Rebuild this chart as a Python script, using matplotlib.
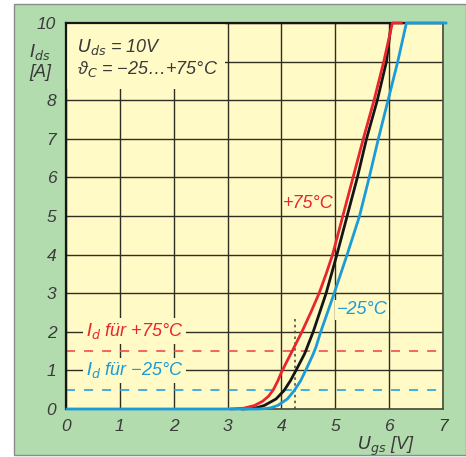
import matplotlib
matplotlib.use("Agg")
import matplotlib.pyplot as plt
from matplotlib.patches import Rectangle

plt.rcParams['font.family'] = ['Liberation Sans Narrow', 'Liberation Sans', 'DejaVu Sans']
plt.rcParams['font.style'] = 'italic'
plt.rcParams['mathtext.fontset'] = 'custom'
plt.rcParams['mathtext.it'] = 'Liberation Sans Narrow:italic'
plt.rcParams['mathtext.rm'] = 'Liberation Sans Narrow:italic'
plt.rcParams['mathtext.default'] = 'it'

# ---- data ----
x_ticks = [0, 1, 2, 3, 4, 5, 6, 7]
y_ticks = [0, 1, 2, 3, 4, 5, 6, 7, 8, 9, 10]
y_ticklabels = ['0', '1', '2', '3', '4', '5', '6', '7', '8', '', '10']

# +75 °C (red)
ugs_hot = [3.05, 3.3, 3.5, 3.65, 3.76, 3.85, 3.93, 4.0, 4.1, 4.2, 4.38, 4.545, 4.70, 4.83, 4.95,
           5.14, 5.33, 5.52, 5.72, 5.9, 6.06, 6.25]
ids_hot = [0, 0.02, 0.09, 0.2, 0.33, 0.5, 0.72, 0.95, 1.23, 1.5, 2.0, 2.5, 3.0, 3.5, 4.0,
           5.0, 6.0, 7.0, 8.0, 9.0, 10.0, 10.0]

# +25 °C (black)
ugs_mid = [3.25, 3.4, 3.53, 3.68, 3.9, 4.05, 4.17, 4.27, 4.43, 4.59, 4.83, 5.03,
           5.22, 5.41, 5.58, 5.78, 5.95, 6.04]
ids_mid = [0, 0.01, 0.03, 0.09, 0.26, 0.48, 0.74, 1.0, 1.43, 2.0, 3.0, 4.0,
           5.0, 6.0, 7.0, 8.0, 9.0, 10.0]

# -25 °C (blue)
ugs_cold = [0, 3.55, 3.7, 3.8, 3.93, 4.11, 4.24, 4.36, 4.45, 4.58, 4.64, 4.73, 4.98,
            5.22, 5.45, 5.63, 5.80, 5.98, 6.16, 6.32, 7.08]
ids_cold = [0, 0, 0.01, 0.03, 0.09, 0.26, 0.48, 0.74, 1.0, 1.39, 1.6, 2.0, 3.0,
            4.0, 5.0, 6.0, 7.0, 8.0, 9.0, 10.0, 10.0]

id_hot_level = 1.5
id_cold_level = 0.5
ugs_marker = 4.25
marker_top = 2.4

RED = '#e8262d'
BLUE = '#1b9bd7'
BLACK = '#151515'
YELLOW = '#fffac6'
GREEN = '#b2dbae'
GRID = '#2e2e22'
TXT = '#3a3a3a'

fig = plt.figure(figsize=(4.66, 4.57), dpi=100)
fig.patch.set_facecolor('white')
fig.add_artist(Rectangle((14 / 466, 2 / 457), (466 - 14) / 466, (453 - 2) / 457,
                         transform=fig.transFigure, facecolor=GREEN,
                         edgecolor='#8c8c8c', linewidth=1.0, zorder=0))

ax = fig.add_axes([66 / 466, 1 - 409 / 457, (443 - 66) / 466, (409 - 23) / 457])
ax.set_facecolor(YELLOW)
ax.set_xlim(0, 7)
ax.set_ylim(0, 10)
ax.set_xticks(x_ticks)
ax.set_xticklabels([str(v) for v in x_ticks])
ax.set_yticks(y_ticks)
ax.set_yticklabels(y_ticklabels)
ax.tick_params(length=0, labelsize=12.5, labelcolor=TXT, pad=7)
ax.set_axisbelow(True)
ax.grid(True, color=GRID, linewidth=1.0)
for s in ['left', 'top']:
    ax.spines[s].set_linewidth(1.6)
    ax.spines[s].set_color(BLACK)
for s in ['right', 'bottom']:
    ax.spines[s].set_linewidth(1.2)
    ax.spines[s].set_color('#4a4a3a')

# blank area behind the header text
ax.add_patch(Rectangle((0, 8.3), 2.95, 1.7, facecolor=YELLOW, edgecolor='none', zorder=1))

# reference levels
ax.axhline(id_hot_level, color='#f0595c', linestyle=(0, (5, 5)), linewidth=1.3, zorder=2)
ax.axhline(id_cold_level, color='#37a7de', linestyle=(0, (5, 5)), linewidth=1.3, zorder=2)
ax.plot([ugs_marker, ugs_marker], [0, marker_top], color='#505040',
        linestyle=(0, (1.5, 2)), linewidth=1.2, zorder=2)

# curves
ax.plot(ugs_mid, ids_mid, color=BLACK, linewidth=2.0, zorder=4, clip_on=False,
        solid_capstyle='butt', solid_joinstyle='round')
ax.plot(ugs_hot, ids_hot, color=RED, linewidth=2.0, zorder=5, clip_on=False,
        solid_capstyle='butt', solid_joinstyle='round')
ax.plot(ugs_cold, ids_cold, color=BLUE, linewidth=2.0, zorder=6, clip_on=False,
        solid_capstyle='butt', solid_joinstyle='round')

# annotations
ax.text(0.2, 9.39, r'$U_{ds}$ = 10V', fontsize=13, color=TXT, va='center', ha='left', zorder=7)
ax.text(0.2, 8.8, r'ϑ$_C$ = −25…+75°C', fontsize=13, color=TXT, va='center', ha='left', zorder=7)
ax.text(4.5, 5.33, '+75°C', fontsize=13, color=RED, va='center', ha='center', zorder=7)
ax.text(5.5, 2.57, '−25°C', fontsize=13, color=BLUE, va='center', ha='center', zorder=7,
        bbox=dict(facecolor=YELLOW, edgecolor='none', pad=1))
ax.text(1.28, 2.02, r'$I_d$ für +75°C', fontsize=13, color=RED, va='center', ha='center', zorder=7,
        bbox=dict(facecolor=YELLOW, edgecolor='none', pad=2))
ax.text(1.28, 1.0, r'$I_d$ für −25°C', fontsize=13, color=BLUE, va='center', ha='center', zorder=7,
        bbox=dict(facecolor=YELLOW, edgecolor='none', pad=2))

fig.text(40 / 466, 1 - 52 / 457, r'$I_{ds}$', fontsize=13, color=TXT, ha='center', va='center')
fig.text(40 / 466, 1 - 72 / 457, '[A]', fontsize=13, color=TXT, ha='center', va='center')
fig.text(386 / 466, 1 - 446 / 457, r'$U_{gs}$ [V]', fontsize=13, color=TXT, ha='center', va='center')

fig.savefig('out.png', dpi=100, facecolor=fig.get_facecolor())
